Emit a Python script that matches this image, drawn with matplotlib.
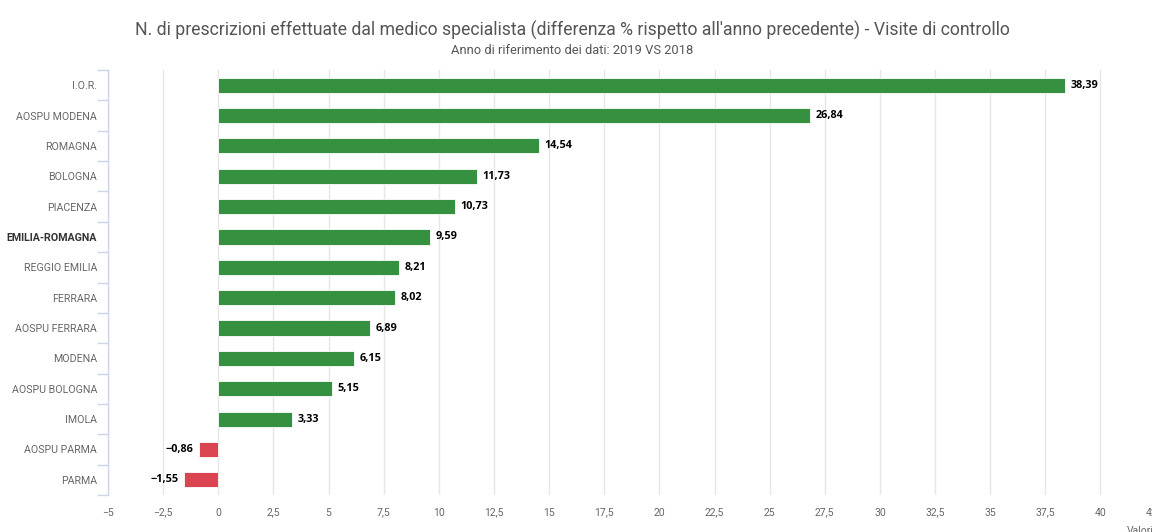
import matplotlib
matplotlib.use("Agg")
import matplotlib.pyplot as plt

categories = ["I.O.R.", "AOSPU MODENA", "ROMAGNA", "BOLOGNA", "PIACENZA",
              "EMILIA-ROMAGNA", "REGGIO EMILIA", "FERRARA", "AOSPU FERRARA",
              "MODENA", "AOSPU BOLOGNA", "IMOLA", "AOSPU PARMA", "PARMA"]
values = [38.39, 26.84, 14.54, 11.73, 10.73, 9.59, 8.21, 8.02, 6.89,
          6.15, 5.15, 3.33, -0.86, -1.55]
x_ticks = [-5, -2.5, 0, 2.5, 5, 7.5, 10, 12.5, 15, 17.5, 20, 22.5, 25,
           27.5, 30, 32.5, 35, 37.5, 40, 42.5]

GREEN = "#35913f"
RED = "#db4451"
GRID = "#e6e6e6"
AXIS = "#ccd6eb"
LABEL = "#666666"

W, H = 1152, 532
fig = plt.figure(figsize=(W / 100, H / 100), dpi=100)
left, right, top, bottom = 108, 1155.6, 70, 495
ax = fig.add_axes([left / W, 1 - bottom / H, (right - left) / W, (bottom - top) / H])

ypos = list(range(len(categories)))
colors = [GREEN if v >= 0 else RED for v in values]
ax.barh(ypos, values, height=0.5, color=colors, edgecolor="white", linewidth=0.6, zorder=3)

# value labels, comma decimal like the original
for y, v in zip(ypos, values):
    txt = f"{v:.2f}".replace(".", ",").replace("-", "\u2212")
    if v >= 0:
        ax.text(v + 0.25, y, txt, ha="left", va="center", fontsize=7.8,
                fontweight="bold", color="#000000", family="Open Sans", zorder=4)
    else:
        ax.text(v - 0.25, y, txt, ha="right", va="center", fontsize=7.8,
                fontweight="bold", color="#000000", family="Open Sans", zorder=4)

ax.set_xlim(-5, 42.5)
ax.set_ylim(len(categories) - 0.5, -0.5)

ax.set_xticks(x_ticks)
ax.set_xticklabels([(f"{t:g}").replace(".", ",").replace("-", "\u2212") for t in x_ticks],
                   color=LABEL, fontsize=7.5, family="Roboto")
ax.tick_params(axis="x", length=0, pad=9)
ax.xaxis.grid(True, color=GRID, linewidth=1, zorder=0)

ax.set_yticks(ypos)
ax.set_yticklabels(categories, color=LABEL, fontsize=7.7, family="Roboto")
ax.set_yticks([i - 0.5 for i in range(len(categories) + 1)], minor=True)
ax.tick_params(axis="y", which="major", length=0, pad=8)
ax.tick_params(axis="y", which="minor", length=8, color=AXIS, width=1)
lbl = ax.get_yticklabels()[5]
lbl.set_fontweight("bold")
lbl.set_color("#333333")

for s in ["top", "right", "bottom"]:
    ax.spines[s].set_visible(False)
ax.spines["left"].set_color(AXIS)
ax.spines["left"].set_linewidth(1)

fig.text(572 / W, 1 - 30 / H,
         "N. di prescrizioni effettuate dal medico specialista (differenza % rispetto all'anno precedente) - Visite di controllo",
         ha="center", va="center", fontsize=12.7, color="#555555", family="Roboto")
fig.text(572 / W, 1 - 51 / H, "Anno di riferimento dei dati: 2019 VS 2018",
         ha="center", va="center", fontsize=9.3, color="#555555", family="Roboto")
fig.text(1127 / W, 1 - 531 / H, "Valori", ha="left", va="center", fontsize=7.5,
         color=LABEL, family="Roboto")

fig.savefig("out.png", dpi=100)
